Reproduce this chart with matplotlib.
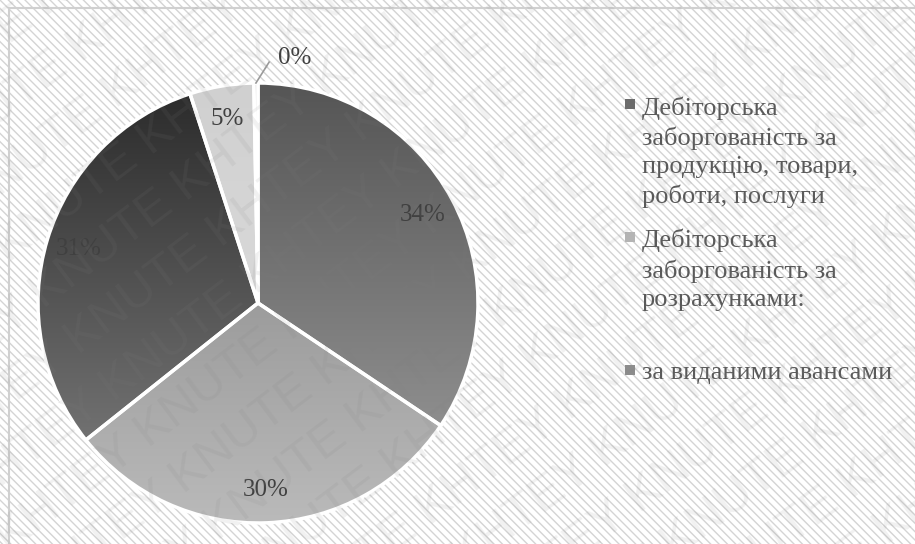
import numpy as np
import matplotlib.pyplot as plt
from matplotlib.patches import Rectangle
from matplotlib.lines import Line2D
from matplotlib.colors import LinearSegmentedColormap

plt.rcParams["hatch.linewidth"] = 1.0

# Structure of receivables, shares in %
shares = [34.4, 29.9, 30.7, 4.7, 0.3]
top_colors = ["#555555", "#7e7e7e", "#2a2a2a", "#d0d0d0", "#9a9a9a"]
bottom_colors = ["#9e9e9e", "#bababa", "#828282", "#e2e2e2", "#b0b0b0"]

legend_labels = [
    "Дебіторська\nзаборгованість за\nпродукцію, товари,\nроботи, послуги",
    "Дебіторська\nзаборгованість за\nрозрахунками:",
    "за виданими авансами",
]
legend_colors = ["#6c6c6c", "#b4b4b4", "#8c8c8c"]

W, H = 915, 544
fig = plt.figure(figsize=(W / 100, H / 100), dpi=100)

# striped background and thin frame
fig.add_artist(Rectangle((0, 0), 1, 1, transform=fig.transFigure, facecolor="white",
                         edgecolor="#d4d4d4", hatch="\\\\\\\\", linewidth=0, zorder=-5))
fig.add_artist(Rectangle((9 / W, -0.1), 1.2, (H - 8) / H + 0.1, transform=fig.transFigure,
                         facecolor="none", edgecolor="#d0d0d0", linewidth=1.5, zorder=-4))

# pie
cx, cy, r = 258, 303, 220
ax = fig.add_axes([(cx - r) / W, (H - cy - r) / H, 2 * r / W, 2 * r / H])
wedges, texts, autotexts = ax.pie(
    shares, startangle=90, counterclock=False, radius=1,
    autopct="%.0f%%", pctdistance=0.85,
    wedgeprops=dict(facecolor="none", edgecolor="white", linewidth=2.5),
    textprops=dict(family="Liberation Serif", fontsize=18, color="#404040"),
)
grad = np.linspace(0, 1, 256)[:, None]
for w, c0, c1 in zip(wedges, top_colors, bottom_colors):
    cmap = LinearSegmentedColormap.from_list("g", [c0, c1])
    im = ax.imshow(grad, extent=(-1, 1, -1, 1), cmap=cmap, aspect="auto", zorder=0.5)
    im.set_clip_path(w)
    w.set_zorder(1)

# small slice label with leader line
w = wedges[-1]
mid = np.deg2rad((w.theta1 + w.theta2) / 2)
ex, ey = np.cos(mid), np.sin(mid)
ax.add_line(Line2D([ex, ex + 0.06], [ey, ey + 0.095], color="#9a9a9a", lw=1.2, clip_on=False))
autotexts[-1].set_position((ex + 0.175, ey + 0.115))

ax.set_xlim(-1, 1)
ax.set_ylim(-1, 1)
ax.axis("off")

# legend
step = 133
for i, (lab, col) in enumerate(zip(legend_labels, legend_colors)):
    y = 104 + i * step
    fig.add_artist(Rectangle((625 / W, 1 - (y + 5) / H), 10 / W, 10 / H,
                             transform=fig.transFigure, facecolor=col, edgecolor="none"))
    fig.text(642 / W, 1 - (y - 8) / H, lab, ha="left", va="top", family="Liberation Serif",
             fontsize=19, color="#5a5a5a", linespacing=1.37)

# diagonal watermark
ang = 37
th = np.deg2rad(ang)
row = "KNUTE KHTEY " * 8
for k in range(-12, 13):
    px = W / 2 - k * 58 * np.sin(th)
    py = H / 2 + k * 58 * np.cos(th)
    fig.text(px / W, py / H, row, rotation=ang, rotation_mode="anchor", ha="center",
             va="center", family="Liberation Sans", fontsize=35, color="#808080",
             alpha=0.11, zorder=10)

fig.savefig("out.png", dpi=100)
